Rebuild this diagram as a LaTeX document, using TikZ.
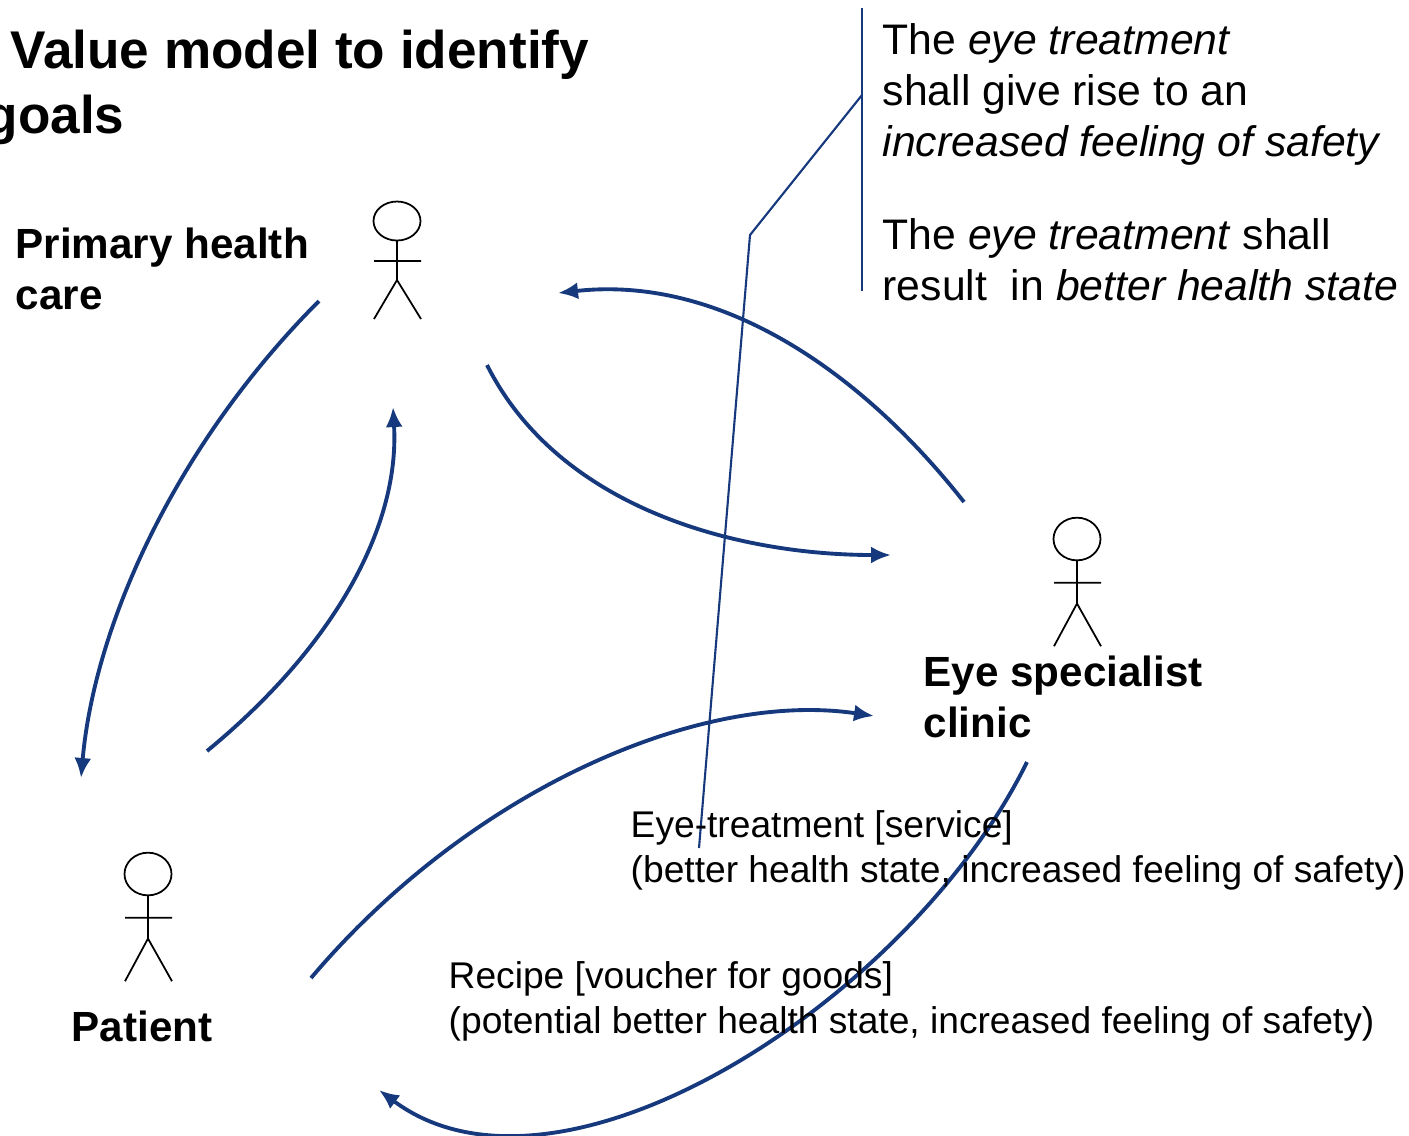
\documentclass[tikz,border=0pt]{standalone}
\usepackage{fontspec}
\setmainfont{Liberation Sans}
\definecolor{flowblue}{RGB}{22,57,125}
\tikzset{
	flow/.style={draw=flowblue,line width=1.1pt,-{Latex[length=2mm,width=1.7mm]}},
	callout/.style={draw=flowblue,line width=0.6pt},
	titletext/.style={anchor=north west,inner sep=0pt,align=left,font=\fontsize{15.1}{18.5}\selectfont\bfseries},
	actortext/.style={anchor=north west,inner sep=0pt,align=left,font=\fontsize{12}{14.5}\selectfont\bfseries},
	goaltext/.style={anchor=north west,inner sep=0pt,align=left,font=\fontsize{12.15}{14.5}\selectfont},
	flowtext/.style={anchor=north west,inner sep=0pt,align=left,font=\fontsize{10.57}{12.8}\selectfont},
	pics/actor/.style={code={
		\draw[line width=0.5pt,yscale=#1] (0,0) circle (23.5 and 19.5);
		\draw[line width=0.5pt,yscale=#1] (0,19.5) -- (0,59) (-23,40) -- (24,40) (-23,98) -- (0,59) -- (24,98);
	}}
}
\usetikzlibrary{arrows.meta}
\begin{document}
\begin{tikzpicture}[x=0.01cm,y=-0.01cm]
	\useasboundingbox (0,0) rectangle (1409,1135);
	% headings
	\node[titletext] (title) at (10,29) {Value model to identify};
	\node[titletext] (titlegoals) at (-15,94) {goals};
	% actors
	\pic at (397,221) {actor=1};
	\pic at (1077,539) {actor=1.094};
	\pic at (148,874) {actor=1.094};
	\node[actortext] (primary) at (15,227) {Primary health\\care};
	\node[actortext] (clinic) at (923,655) {Eye specialist\\clinic};
	\node[actortext] (patient) at (71,1010) {Patient};
	% flows
	\coordinate (pa) at (319,301);
	\coordinate (pb) at (81,778);
	\coordinate (qa) at (207,751);
	\coordinate (qb) at (393,407);
	\coordinate (ra) at (487,365);
	\coordinate (rb) at (891,555);
	\coordinate (sa) at (964,502);
	\coordinate (sb) at (558,293);
	\coordinate (ta) at (311,978);
	\coordinate (tb) at (874,716);
	\coordinate (ua) at (1027,762);
	\coordinate (ub) at (379,1090);
	\draw[flow] (pa) .. controls (180,440) and (95,620) .. (pb);
	\draw[flow] (qa) .. controls (330,650) and (400,530) .. (qb);
	\draw[flow] (ra) .. controls (560,510) and (740,555) .. (rb);
	\draw[flow] (sa) .. controls (860,370) and (720,275) .. (sb);
	\draw[flow] (ta) .. controls (470,790) and (700,690) .. (tb);
	\draw[flow] (ua) .. controls (910,1000) and (560,1225) .. (ub);
	% callout
	\coordinate (bartop) at (862,8);
	\coordinate (barbottom) at (862,291);
	\coordinate (barmid) at (862,95);
	\coordinate (bend) at (750,235);
	\coordinate (foot) at (699,848);
	\draw[callout] (bartop) -- (barbottom);
	\draw[callout] (barmid) -- (bend) -- (foot);
	% texts
	\node[goaltext] (safetygoal) at (882,23) {The \textit{eye treatment}\\shall give rise to an\\\textit{increased feeling of safety}};
	\node[goaltext] (healthgoal) at (882,218) {The \textit{eye treatment} shall\\result~ in \textit{better health state}};
	\node[flowtext] (service) at (630,810) {Eye-treatment [service]\\(better health state, increased feeling of safety)};
	\node[flowtext] (recipe) at (448,961) {Recipe [voucher for goods]\\(potential better health state, increased feeling of safety)};
\end{tikzpicture}
\end{document}
